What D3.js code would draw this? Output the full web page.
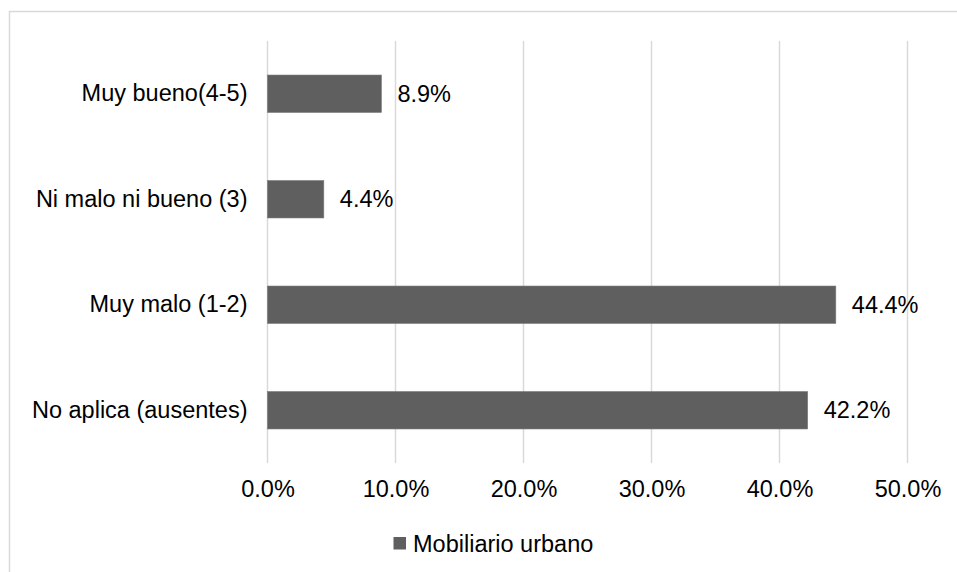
<!DOCTYPE html>
<html>
<head>
<meta charset="utf-8">
<script src="https://cdn.jsdelivr.net/npm/d3@7"></script>
<style>
  html, body { margin: 0; padding: 0; background: #fff; }
  svg { display: block; }
  text { font-family: "Liberation Sans", Arial, sans-serif; fill: #000; }
</style>
</head>
<body>
<svg id="chart" width="957" height="572"></svg>
<script>
const categories = ["Muy bueno(4-5)", "Ni malo ni bueno (3)", "Muy malo (1-2)", "No aplica (ausentes)"];
const values = [8.9, 4.4, 44.4, 42.2];
const tickValues = [0, 10, 20, 30, 40, 50];
const seriesName = "Mobiliario urbano";

const svg = d3.select("#chart");
const W = 957, H = 572;
const plot = { left: 267.5, right: 907.5, top: 41, bottom: 463 };
const fontSize = 23.5;

// outer border (top + left visible)
svg.append("path")
  .attr("d", `M9.5,${H} V11.5 H${W}`)
  .attr("fill", "none")
  .attr("stroke", "#d9d9d9")
  .attr("stroke-width", 1.5);

const x = d3.scaleLinear().domain([0, 50]).range([plot.left, plot.right]);
const y = d3.scaleBand().domain(categories).range([plot.top, plot.bottom])
  .paddingInner(0.645).paddingOuter(0.3225);

// gridlines
svg.append("g").selectAll("line").data(tickValues).join("line")
  .attr("x1", d => x(d)).attr("x2", d => x(d))
  .attr("y1", plot.top).attr("y2", plot.bottom)
  .attr("stroke", "#d9d9d9").attr("stroke-width", 1.5);

// bars
svg.append("g").selectAll("rect").data(values).join("rect")
  .attr("x", x(0))
  .attr("y", (d, i) => y(categories[i]))
  .attr("width", d => x(d) - x(0))
  .attr("height", y.bandwidth())
  .attr("fill", "#5f5f5f")
  .attr("stroke", "#7a7a7a").attr("stroke-width", 0.6);

// value labels
svg.append("g").selectAll("text").data(values).join("text")
  .attr("x", d => x(d) + 16)
  .attr("y", (d, i) => y(categories[i]) + y.bandwidth() / 2)
  .attr("dy", "0.35em")
  .attr("font-size", fontSize)
  .text(d => d.toFixed(1) + "%");

// category axis labels
const yAxis = d3.axisLeft(y).tickSize(0).tickPadding(20);
const gy = svg.append("g").attr("transform", `translate(${plot.left},0)`).call(yAxis);
gy.select(".domain").remove();
gy.selectAll("text").attr("font-size", fontSize).attr("fill", "#000")
  .attr("font-family", "Liberation Sans, Arial, sans-serif");

// x axis tick labels
const xAxis = d3.axisBottom(x).tickValues(tickValues).tickSize(0).tickPadding(17)
  .tickFormat(d => d.toFixed(1) + "%");
const gx = svg.append("g").attr("transform", `translate(0,${plot.bottom})`).call(xAxis);
gx.select(".domain").remove();
gx.selectAll("text").attr("font-size", fontSize).attr("fill", "#000")
  .attr("font-family", "Liberation Sans, Arial, sans-serif");

// legend
const lg = svg.append("g").attr("transform", "translate(393.5,537)");
lg.append("rect").attr("width", 12.5).attr("height", 12.5).attr("fill", "#5f5f5f");
lg.append("text").attr("x", 19.5).attr("y", 6.5).attr("dy", "0.35em")
  .attr("font-size", fontSize).text(seriesName);
</script>
</body>
</html>
